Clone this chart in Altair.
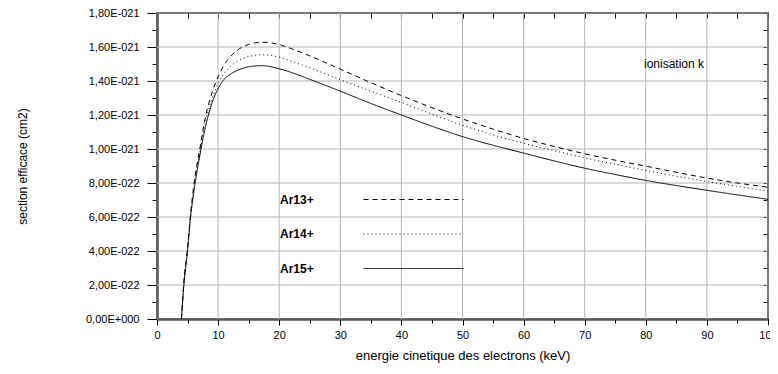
import json
import altair as alt
import pandas as pd

# ---- data (cross sections in units of 1E-21 cm2) ----
energy = [4.0, 4.4, 5.0, 5.5, 6.0, 7.0, 8.0, 9.0, 10, 11, 12, 13, 14, 15, 16, 17, 18, 19, 20,
          22, 25, 30, 35, 40, 45, 50, 55, 60, 65, 70, 75, 80, 85, 90, 95, 100]
ar13 = [0.0, 0.22, 0.42, 0.62, 0.78, 1.0, 1.2, 1.33, 1.425, 1.495, 1.543, 1.577, 1.600, 1.615, 1.624,
        1.628, 1.627, 1.622, 1.614, 1.590, 1.548, 1.470, 1.390, 1.314, 1.243, 1.177, 1.117, 1.062,
        1.015, 0.972, 0.934, 0.899, 0.863, 0.829, 0.800, 0.775]
ar14 = [0.0, 0.21, 0.41, 0.61, 0.76, 0.98, 1.17, 1.295, 1.385, 1.445, 1.485, 1.512, 1.532, 1.543,
        1.550, 1.554, 1.553, 1.548, 1.540, 1.516, 1.478, 1.408, 1.340, 1.274, 1.205, 1.140, 1.083,
        1.033, 0.990, 0.948, 0.910, 0.874, 0.840, 0.809, 0.780, 0.752]
ar15 = [0.0, 0.2, 0.4, 0.6, 0.74, 0.96, 1.14, 1.27, 1.355, 1.41, 1.44, 1.46, 1.474, 1.484, 1.488,
        1.490, 1.488, 1.481, 1.472, 1.450, 1.410, 1.340, 1.268, 1.200, 1.134, 1.073, 1.022, 0.976,
        0.930, 0.887, 0.850, 0.815, 0.785, 0.757, 0.730, 0.704]
series_names = ["Ar13+", "Ar14+", "Ar15+"]

y_tick_values = [round(i * 0.1, 1) for i in range(19)]
y_grid_values = [round(i * 0.2, 1) for i in range(10)]
y_tick_labels = ["0,00E+000", "2,00E-022", "4,00E-022", "6,00E-022", "8,00E-022",
                 "1,00E-021", "1,20E-021", "1,40E-021", "1,60E-021", "1,80E-021"]
x_tick_values = list(range(0, 101, 5))
x_grid_values = list(range(0, 101, 10))
x_tick_labels = ["0", "10", "20", "30", "40", "50", "60", "70", "80", "90", "100"]

rows = []
for name, vals in zip(series_names, [ar13, ar14, ar15]):
    for e, v in zip(energy, vals):
        rows.append({"energie": e, "section": v, "ion": name})
df = pd.DataFrame(rows)

FONT = "Liberation Sans"
W, H = 611, 306
GRID = "#b4b4b4"

ylab_js = json.dumps(y_tick_labels)
xlab_js = json.dumps(x_tick_labels)
y_major = "round(datum.value*10) % 2 == 0"
x_major = "round(datum.value) % 10 == 0"

xscale = alt.Scale(domain=[0, 100], nice=False, zero=False)
yscale = alt.Scale(domain=[0, 1.8], nice=False)

x_axis = alt.Axis(
    orient="bottom", values=x_tick_values,
    labelExpr=f"{x_major} ? {xlab_js}[round(datum.value/10)] : ''",
    labelFlush=False, labelOverlap=False, labelFont=FONT, labelFontSize=11, labelColor="black",
    labelPadding=4,
    tickSize={"condition": {"test": x_major, "value": 6}, "value": 4},
    tickColor="black", tickWidth=1,
    domainColor="black", domainWidth=2, grid=False,
    title="energie cinetique des electrons (keV)", titleFont=FONT, titleFontSize=13,
    titleFontWeight="normal", titleColor="black", titleY=36, titleBaseline="middle",
)
y_axis = alt.Axis(
    orient="left", values=y_tick_values,
    labelExpr=f"{y_major} ? {ylab_js}[round(datum.value*5)] : ''",
    labelOverlap=False, labelFont=FONT, labelFontSize=11, labelColor="black",
    labelPadding=8,
    tickSize={"condition": {"test": y_major, "value": 10}, "value": 5},
    tickColor="black", tickWidth=1,
    domainColor="black", domainWidth=2, grid=False,
    title="section efficace (cm2)", titleFont=FONT, titleFontSize=12,
    titleFontWeight="normal", titleColor="black",
    titleX=-135, titleY=H / 2, titleAngle=270, titleBaseline="middle", titleAlign="center",
)

xgrid = alt.Chart(pd.DataFrame({"g": x_grid_values})).mark_rule(
    color=GRID, stroke=GRID, strokeWidth=1, opacity=1).encode(
    x=alt.X("g:Q", scale=xscale, axis=None))
ygrid = alt.Chart(pd.DataFrame({"g": y_grid_values})).mark_rule(
    color=GRID, stroke=GRID, strokeWidth=1, opacity=1).encode(
    y=alt.Y("g:Q", scale=yscale, axis=None))

lines = alt.Chart(df).mark_line(color="black", strokeWidth=1, interpolate="monotone").encode(
    x=alt.X("energie:Q", scale=xscale, axis=x_axis),
    y=alt.Y("section:Q", scale=yscale, axis=y_axis),
    strokeDash=alt.StrokeDash(
        "ion:N",
        scale=alt.Scale(domain=series_names, range=[[5, 4], [1, 3], [1, 0]]),
        legend=alt.Legend(
            orient="none", legendX=119, legendY=180.5, title=None,
            symbolType="M-50,0H50", symbolSize=4, symbolStrokeWidth=1,
            symbolStrokeColor="black", symbolFillColor="transparent",
            labelOffset={"expr": "-139.5"}, symbolOffset=131.5, labelAlign="left",
            labelFont=FONT, labelFontWeight="bold", labelFontSize=12, labelColor="black",
            rowPadding=22.5, padding=0,
        ),
    ),
)

mirror = alt.Chart(df).mark_line(strokeOpacity=0).encode(
    x=alt.X("energie:Q", scale=xscale, axis=alt.Axis(
        orient="top", values=x_tick_values, labels=False, domain=False, grid=False,
        tickSize=5, tickColor="black", tickWidth=1, offset=-5, title=None)),
    y=alt.Y("section:Q", scale=yscale, axis=alt.Axis(
        orient="right", values=y_tick_values, labels=False, domain=False, grid=False,
        tickSize=5, tickColor="black", tickWidth=1, offset=-5, title=None)),
    detail="ion:N",
)

note = alt.Chart(pd.DataFrame({"t": ["ionisation k"]})).mark_text(
    font=FONT, fontSize=12, color="black", align="center", baseline="middle"
).encode(text="t:N", x=alt.value(517), y=alt.value(51))

chart = alt.layer(xgrid, ygrid, lines, mirror, note).resolve_axis(
    x="independent", y="independent"
).properties(
    width=W, height=H,
    autosize=alt.AutoSizeParams(type="none"),
    padding={"left": 149, "top": 5, "right": 2, "bottom": 45},
    background="white",
).configure_view(stroke="black", strokeWidth=1.5)

chart.save("out.html", embed_options={"renderer": "svg", "actions": False})
